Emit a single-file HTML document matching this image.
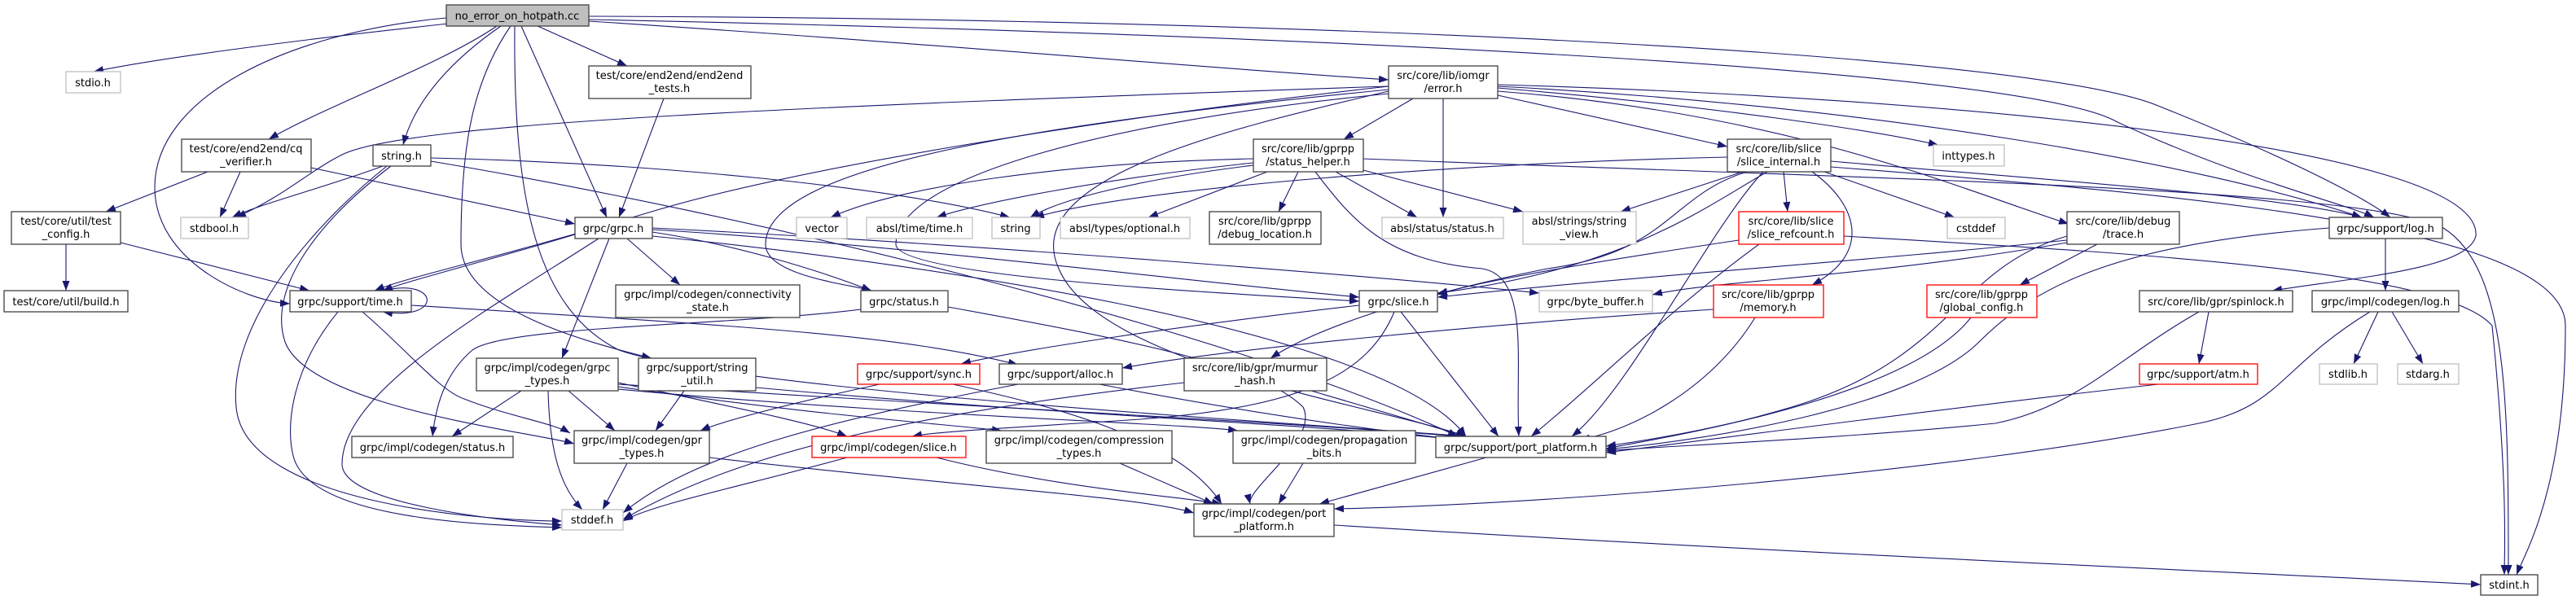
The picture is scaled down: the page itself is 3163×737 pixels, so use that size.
<!DOCTYPE html>
<html><head><meta charset="utf-8"><style>
html,body{margin:0;padding:0;background:#fff;}
svg{display:block;}
text{font-family:"DejaVu Sans","Liberation Sans",sans-serif;font-size:13px;fill:#000;text-anchor:middle;}
.n{fill:#fff;stroke:#404040;stroke-width:1.3;}
.g{fill:#fff;stroke:#bfbfbf;stroke-width:1.3;}
.r{fill:#fff;stroke:#ff0000;stroke-width:1.3;}
.m{fill:#bfbfbf;stroke:#404040;stroke-width:1.3;}
path.e{fill:none;stroke:#191970;stroke-width:1.1;marker-end:url(#a);}
</style></head><body>
<svg width="3163" height="737" viewBox="0 0 3163 737" xmlns="http://www.w3.org/2000/svg">
<defs><marker id="a" markerUnits="userSpaceOnUse" markerWidth="12" markerHeight="9" refX="12" refY="4.5" orient="auto"><path d="M0,0 L12,4.5 L0,9 z" fill="#191970"/></marker></defs>
<g>
<path class="e" d="M560,28 C400,45 200,70 115,88"/>
<path class="e" d="M610,32 C540,80 400,130 330,171"/>
<path class="e" d="M615,32 C560,70 510,120 495,178"/>
<path class="e" d="M660,32 L770,81"/>
<path class="e" d="M640,32 L745,267"/>
<path class="e" d="M548,22 C350,40 190,120 190,230 C190,320 300,370 356,373"/>
<path class="e" d="M627,32 C580,100 566,180 566,300 C566,380 720,420 800,440"/>
<path class="e" d="M632,32 C630,250 660,380 760,430 C900,480 1600,520 1800,536"/>
<path class="e" d="M723,26 C1100,50 1500,85 1705,98"/>
<path class="e" d="M723,20 C1500,22 2480,60 2650,130 C2800,190 2900,240 2935,267"/>
<path class="e" d="M723,24 C1500,40 2480,80 2600,150 C2750,220 2880,250 2915,267"/>
<path class="e" d="M470,204 C400,230 320,250 285,267"/>
<path class="e" d="M475,204 C380,280 280,400 290,500 C300,620 600,640 690,640"/>
<path class="e" d="M480,204 C380,280 330,360 350,420 C380,500 650,530 705,545"/>
<path class="e" d="M529,194 C800,200 1100,230 1240,267"/>
<path class="e" d="M529,198 C900,260 1500,400 1790,536"/>
<path class="e" d="M255,211 L130,260"/>
<path class="e" d="M295,211 L270,267"/>
<path class="e" d="M382,206 L706,275"/>
<path class="e" d="M81,300 L81,357"/>
<path class="e" d="M148,298 L380,357"/>
<path class="e" d="M815,121 L760,267"/>
<path class="e" d="M1735,121 L1650,171"/>
<path class="e" d="M1772,121 L1772,267"/>
<path class="e" d="M1839,117 L2121,180"/>
<path class="e" d="M1839,108 C2100,130 2300,160 2380,178"/>
<path class="e" d="M1839,106 C2300,130 2700,200 2900,267"/>
<path class="e" d="M1705,106 C1000,130 500,150 420,190 C380,210 350,240 290,267"/>
<path class="e" d="M1705,106 C1400,140 1000,200 800,260 C600,320 500,340 460,357"/>
<path class="e" d="M1705,110 C1300,150 940,200 940,300 C940,340 1050,350 1070,357"/>
<path class="e" d="M1705,115 C1350,150 1100,220 1100,300 C1100,340 1500,360 1669,370"/>
<path class="e" d="M1705,112 C1500,160 1250,220 1300,330 C1350,450 1700,500 1800,536"/>
<path class="e" d="M1839,112 C2200,140 2400,230 2540,275"/>
<path class="e" d="M1839,104 C2400,120 3050,180 3040,290 C3030,330 2900,340 2790,357"/>
<path class="e" d="M1539,195 C1300,200 1100,230 1020,267"/>
<path class="e" d="M1539,200 C1350,220 1200,250 1150,267"/>
<path class="e" d="M1539,203 C1400,220 1300,245 1265,267"/>
<path class="e" d="M1556,211 L1410,267"/>
<path class="e" d="M1594,211 L1570,260"/>
<path class="e" d="M1640,211 L1740,267"/>
<path class="e" d="M1670,208 L1870,260"/>
<path class="e" d="M1615,211 C1660,270 1700,320 1820,330 C1880,340 1860,450 1865,536"/>
<path class="e" d="M1674,195 C2300,220 2900,230 3000,280 C3080,330 3080,500 3080,706"/>
<path class="e" d="M2140,211 L1990,260"/>
<path class="e" d="M2190,211 L2195,260"/>
<path class="e" d="M2225,211 C2280,250 2300,310 2225,350"/>
<path class="e" d="M2240,211 L2400,267"/>
<path class="e" d="M2248,198 C2500,220 2800,240 2900,267"/>
<path class="e" d="M2170,211 C2100,250 2000,330 1765,360"/>
<path class="e" d="M2165,211 C2100,280 2000,480 1930,536"/>
<path class="e" d="M2145,211 C2050,240 2050,310 1900,330 C1750,360 1620,400 1560,440"/>
<path class="e" d="M2121,193 C1800,200 1400,230 1270,267"/>
<path class="e" d="M2248,205 C2700,240 3150,280 3150,400 C3150,600 3100,680 3090,706"/>
<path class="e" d="M2135,295 C1900,330 1800,350 1765,362"/>
<path class="e" d="M2160,300 C2050,380 1950,480 1880,536"/>
<path class="e" d="M2264,290 C2600,310 3000,330 3060,400 C3080,600 3075,680 3075,706"/>
<path class="e" d="M2104,380 C1800,400 1500,430 1378,452"/>
<path class="e" d="M2155,390 C2100,480 2000,530 1940,540"/>
<path class="e" d="M2420,390 C2350,480 2100,530 1972,548"/>
<path class="e" d="M2575,300 L2480,350"/>
<path class="e" d="M2538,295 C2300,320 2000,340 1765,365"/>
<path class="e" d="M2538,290 C2400,330 2400,440 2200,500 C2100,530 2000,545 1972,551"/>
<path class="e" d="M2538,298 C2300,340 2100,345 2029,362"/>
<path class="e" d="M2929,293 L2929,357"/>
<path class="e" d="M2860,280 C2600,300 2500,350 2430,420 C2350,500 2100,540 1972,552"/>
<path class="e" d="M2712,383 L2700,447"/>
<path class="e" d="M2700,383 C2600,440 2550,500 2450,520 C2250,540 2000,550 1972,554"/>
<path class="e" d="M2650,472 C2400,500 2100,540 1972,556"/>
<path class="e" d="M2920,383 L2890,447"/>
<path class="e" d="M2937,383 L2975,447"/>
<path class="e" d="M2910,383 C2800,450 2800,500 2700,520 C2400,580 1900,620 1638,625"/>
<path class="e" d="M1669,375 C1450,400 1250,430 1180,447"/>
<path class="e" d="M1720,383 L1840,536"/>
<path class="e" d="M1712,383 C1680,460 1600,500 1400,515 C1250,525 1150,530 1120,536"/>
<path class="e" d="M706,288 C600,320 500,345 470,357"/>
<path class="e" d="M735,293 C600,380 420,480 420,570 C420,620 620,640 690,645"/>
<path class="e" d="M748,293 L690,440"/>
<path class="e" d="M770,293 L835,350"/>
<path class="e" d="M801,285 C900,300 1000,330 1070,357"/>
<path class="e" d="M801,282 C1100,300 1500,350 1669,365"/>
<path class="e" d="M801,280 C1200,300 1700,340 1890,360"/>
<path class="e" d="M801,290 C1100,320 1700,400 1800,536"/>
<path class="e" d="M470,357 C540,340 545,395 470,383"/>
<path class="e" d="M415,383 C360,450 350,520 360,560 C380,640 600,645 690,648"/>
<path class="e" d="M445,383 C500,430 540,480 570,490 C620,510 680,520 700,532"/>
<path class="e" d="M505,375 C900,400 1100,410 1250,448"/>
<path class="e" d="M640,480 L555,536"/>
<path class="e" d="M698,480 L755,529"/>
<path class="e" d="M673,480 C675,560 690,600 715,626"/>
<path class="e" d="M759,470 C900,500 1000,520 1040,536"/>
<path class="e" d="M759,475 C1000,510 1150,520 1230,529"/>
<path class="e" d="M759,478 C1100,510 1450,520 1520,529"/>
<path class="e" d="M759,472 C1200,500 1600,520 1790,536"/>
<path class="e" d="M840,480 L805,529"/>
<path class="e" d="M928,476 C1300,510 1600,520 1790,540"/>
<path class="e" d="M1057,380 C900,400 620,400 580,430 C545,460 535,500 531,536"/>
<path class="e" d="M1164,377 C1400,420 1550,450 1600,500 C1620,540 1530,600 1535,619"/>
<path class="e" d="M1080,472 C950,500 880,520 860,529"/>
<path class="e" d="M1170,472 C1300,500 1450,540 1500,619"/>
<path class="e" d="M1250,472 C1000,520 850,560 765,630"/>
<path class="e" d="M1350,472 C1550,510 1700,530 1790,540"/>
<path class="e" d="M1454,470 C1100,510 900,560 765,638"/>
<path class="e" d="M1610,480 L1800,536"/>
<path class="e" d="M1040,562 C900,600 800,620 765,640"/>
<path class="e" d="M1150,562 C1300,600 1450,610 1500,619"/>
<path class="e" d="M1375,569 L1490,619"/>
<path class="e" d="M1600,569 L1570,619"/>
<path class="e" d="M770,569 L740,626"/>
<path class="e" d="M871,562 C1200,600 1400,610 1466,630"/>
<path class="e" d="M1825,562 L1620,619"/>
<path class="e" d="M1638,645 C2200,680 2800,705 3046,718"/>
</g>
<g>
<rect class="m" x="548" y="6" width="175" height="26"/><text x="635" y="24">no_error_on_hotpath.cc</text>
<rect class="g" x="81" y="88" width="67" height="26"/><text x="114" y="106">stdio.h</text>
<rect class="n" x="223" y="171" width="159" height="40"/><text x="302" y="187">test/core/end2end/cq</text><text x="302" y="203">_verifier.h</text>
<rect class="n" x="458" y="178" width="71" height="26"/><text x="493" y="196">string.h</text>
<rect class="n" x="723" y="81" width="199" height="40"/><text x="822" y="97">test/core/end2end/end2end</text><text x="822" y="113">_tests.h</text>
<rect class="g" x="222" y="267" width="83" height="26"/><text x="263" y="285">stdbool.h</text>
<rect class="n" x="14" y="260" width="134" height="40"/><text x="81" y="276">test/core/util/test</text><text x="81" y="292">_config.h</text>
<rect class="n" x="706" y="267" width="95" height="26"/><text x="753" y="285">grpc/grpc.h</text>
<rect class="n" x="5" y="357" width="152" height="26"/><text x="81" y="375">test/core/util/build.h</text>
<rect class="n" x="356" y="357" width="149" height="26"/><text x="430" y="375">grpc/support/time.h</text>
<rect class="n" x="585" y="440" width="174" height="40"/><text x="672" y="456">grpc/impl/codegen/grpc</text><text x="672" y="472">_types.h</text>
<rect class="n" x="432" y="536" width="198" height="26"/><text x="531" y="554">grpc/impl/codegen/status.h</text>
<rect class="n" x="705" y="529" width="166" height="40"/><text x="788" y="545">grpc/impl/codegen/gpr</text><text x="788" y="561">_types.h</text>
<rect class="g" x="690" y="626" width="75" height="25"/><text x="727" y="643">stddef.h</text>
<rect class="n" x="756" y="350" width="226" height="40"/><text x="869" y="366">grpc/impl/codegen/connectivity</text><text x="869" y="382">_state.h</text>
<rect class="n" x="784" y="440" width="144" height="40"/><text x="856" y="456">grpc/support/string</text><text x="856" y="472">_util.h</text>
<rect class="n" x="1539" y="171" width="135" height="40"/><text x="1606" y="187">src/core/lib/gprpp</text><text x="1606" y="203">/status_helper.h</text>
<rect class="g" x="978" y="267" width="62" height="26"/><text x="1009" y="285">vector</text>
<rect class="g" x="1064" y="267" width="130" height="26"/><text x="1129" y="285">absl/time/time.h</text>
<rect class="g" x="1218" y="267" width="59" height="26"/><text x="1247" y="285">string</text>
<rect class="g" x="1302" y="267" width="159" height="26"/><text x="1381" y="285">absl/types/optional.h</text>
<rect class="n" x="1485" y="260" width="137" height="40"/><text x="1553" y="276">src/core/lib/gprpp</text><text x="1553" y="292">/debug_location.h</text>
<rect class="n" x="1057" y="357" width="107" height="26"/><text x="1110" y="375">grpc/status.h</text>
<rect class="r" x="1053" y="447" width="150" height="25"/><text x="1128" y="464">grpc/support/sync.h</text>
<rect class="n" x="1227" y="447" width="151" height="25"/><text x="1302" y="464">grpc/support/alloc.h</text>
<rect class="n" x="1454" y="440" width="175" height="40"/><text x="1541" y="456">src/core/lib/gpr/murmur</text><text x="1541" y="472">_hash.h</text>
<rect class="r" x="997" y="536" width="189" height="26"/><text x="1091" y="554">grpc/impl/codegen/slice.h</text>
<rect class="n" x="1211" y="529" width="228" height="40"/><text x="1325" y="545">grpc/impl/codegen/compression</text><text x="1325" y="561">_types.h</text>
<rect class="n" x="1514" y="529" width="224" height="40"/><text x="1626" y="545">grpc/impl/codegen/propagation</text><text x="1626" y="561">_bits.h</text>
<rect class="n" x="1466" y="619" width="172" height="40"/><text x="1552" y="635">grpc/impl/codegen/port</text><text x="1552" y="651">_platform.h</text>
<rect class="n" x="1705" y="81" width="134" height="40"/><text x="1772" y="97">src/core/lib/iomgr</text><text x="1772" y="113">/error.h</text>
<rect class="n" x="2121" y="171" width="127" height="40"/><text x="2184" y="187">src/core/lib/slice</text><text x="2184" y="203">/slice_internal.h</text>
<rect class="g" x="2374" y="178" width="87" height="26"/><text x="2417" y="196">inttypes.h</text>
<rect class="g" x="1697" y="267" width="149" height="26"/><text x="1771" y="285">absl/status/status.h</text>
<rect class="g" x="1870" y="260" width="139" height="40"/><text x="1939" y="276">absl/strings/string</text><text x="1939" y="292">_view.h</text>
<rect class="r" x="2135" y="260" width="129" height="40"/><text x="2199" y="276">src/core/lib/slice</text><text x="2199" y="292">/slice_refcount.h</text>
<rect class="g" x="2391" y="267" width="71" height="26"/><text x="2426" y="285">cstddef</text>
<rect class="n" x="1669" y="357" width="96" height="26"/><text x="1717" y="375">grpc/slice.h</text>
<rect class="g" x="1890" y="357" width="139" height="26"/><text x="1959" y="375">grpc/byte_buffer.h</text>
<rect class="r" x="2104" y="350" width="135" height="40"/><text x="2171" y="366">src/core/lib/gprpp</text><text x="2171" y="382">/memory.h</text>
<rect class="r" x="2366" y="350" width="135" height="40"/><text x="2433" y="366">src/core/lib/gprpp</text><text x="2433" y="382">/global_config.h</text>
<rect class="n" x="1763" y="536" width="209" height="26"/><text x="1867" y="554">grpc/support/port_platform.h</text>
<rect class="n" x="2538" y="260" width="138" height="40"/><text x="2607" y="276">src/core/lib/debug</text><text x="2607" y="292">/trace.h</text>
<rect class="n" x="2860" y="267" width="139" height="26"/><text x="2929" y="285">grpc/support/log.h</text>
<rect class="n" x="2627" y="357" width="188" height="26"/><text x="2721" y="375">src/core/lib/gpr/spinlock.h</text>
<rect class="n" x="2839" y="357" width="180" height="26"/><text x="2929" y="375">grpc/impl/codegen/log.h</text>
<rect class="r" x="2627" y="447" width="145" height="25"/><text x="2699" y="464">grpc/support/atm.h</text>
<rect class="g" x="2848" y="447" width="71" height="25"/><text x="2883" y="464">stdlib.h</text>
<rect class="g" x="2944" y="447" width="75" height="25"/><text x="2981" y="464">stdarg.h</text>
<rect class="n" x="3046" y="706" width="70" height="25"/><text x="3081" y="723">stdint.h</text>
</g>
</svg>
</body></html>
